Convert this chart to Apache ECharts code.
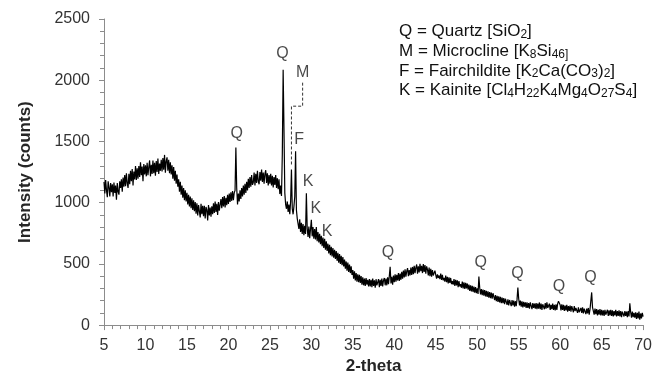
<!DOCTYPE html>
<html>
<head>
<meta charset="utf-8">
<script src="https://cdn.jsdelivr.net/npm/echarts@6/dist/echarts.min.js"></script>
<style>
  html, body { margin: 0; padding: 0; background: #fff; }
  #chart { width: 655px; height: 380px; }
</style>
</head>
<body>
<div id="chart"></div>
<script>
// Diffraction scan: intensity sampled every 0.1 degree 2-theta, starting at 5.
const twoThetaStart = 5;
const twoThetaStep = 0.1;

// One row per degree (x.0 ... x.9), final value at 70.0
const intensityRows = [
  [1170, 1075, 1185, 1100, 1045, 1175, 1125, 1050, 1160, 1085], // 5
  [1150, 1050, 1165, 1080, 1140, 1025, 1160, 1090, 1065, 1175], // 6
  [1120, 1190, 1090, 1205, 1130, 1225, 1135, 1240, 1160, 1120], // 7
  [1235, 1150, 1260, 1175, 1275, 1140, 1255, 1190, 1300, 1185], // 8
  [1280, 1195, 1300, 1210, 1330, 1225, 1295, 1175, 1315, 1230], // 9
  [1305, 1215, 1325, 1225, 1290, 1345, 1215, 1310, 1235, 1345], // 10
  [1240, 1325, 1220, 1340, 1250, 1360, 1235, 1320, 1260, 1350], // 11
  [1255, 1365, 1270, 1390, 1245, 1340, 1370, 1260, 1350, 1240], // 12
  [1330, 1230, 1305, 1195, 1290, 1180, 1260, 1155, 1230, 1130], // 13
  [1190, 1090, 1170, 1065, 1140, 1040, 1120, 1020, 1100, 1010], // 14
  [1080, 985, 1065, 970, 1050, 955, 1035, 940, 1020, 930],      // 15
  [1005, 910, 995, 895, 980, 965, 880, 990, 905, 975],          // 16
  [890, 975, 870, 965, 940, 855, 980, 895, 960, 885],           // 17
  [970, 905, 995, 915, 1010, 925, 990, 900, 1005, 935],         // 18
  [945, 1030, 955, 1045, 970, 1055, 960, 1040, 980, 1065],      // 19
  [990, 1075, 1005, 1085, 1015, 1095, 1020, 1080, 1100, 1450],  // 20
  [1120, 985, 1075, 1010, 1100, 1030, 1120, 1050, 1140, 1065],  // 21
  [1155, 1080, 1170, 1100, 1195, 1120, 1210, 1130, 1225, 1145], // 22
  [1165, 1245, 1140, 1235, 1160, 1260, 1175, 1150, 1250, 1180], // 23
  [1270, 1170, 1245, 1155, 1235, 1265, 1160, 1240, 1140, 1225], // 24
  [1155, 1235, 1140, 1220, 1125, 1210, 1145, 1225, 1120, 1200], // 25
  [1110, 1190, 1070, 1140, 1055, 1400, 2085, 1600, 1080, 985],  // 26
  [950, 1010, 925, 985, 905, 1010, 1270, 950, 905, 970],        // 27
  [1050, 1420, 940, 870, 860, 785, 865, 760, 835, 745],         // 28
  [825, 735, 810, 745, 1076, 790, 720, 805, 710, 785],          // 29
  [860, 725, 800, 705, 785, 700, 800, 685, 760, 675],           // 30
  [745, 660, 730, 645, 715, 630, 705, 615, 685, 605],           // 31
  [665, 585, 655, 570, 640, 560, 630, 550, 615, 540],           // 32
  [605, 525, 590, 510, 580, 500, 565, 490, 555, 480],           // 33
  [535, 460, 520, 445, 510, 435, 495, 425, 480, 410],           // 34
  [450, 380, 440, 365, 425, 355, 415, 350, 410, 345],           // 35
  [400, 330, 390, 325, 380, 320, 385, 330, 370, 315],           // 36
  [375, 315, 370, 310, 380, 320, 365, 305, 375, 325],           // 37
  [315, 375, 310, 370, 320, 380, 315, 365, 385, 325],           // 38
  [380, 325, 390, 335, 400, 477, 340, 395, 330, 405],           // 39
  [350, 415, 355, 410, 365, 425, 360, 420, 370, 435],           // 40
  [380, 445, 390, 455, 395, 440, 465, 400, 450, 405],           // 41
  [470, 410, 475, 415, 485, 425, 470, 495, 420, 480],           // 42
  [430, 500, 440, 485, 425, 498, 435, 490, 420, 480],           // 43
  [455, 405, 470, 400, 460, 395, 450, 405, 390, 445],           // 44
  [410, 380, 415, 385, 405, 375, 420, 370, 410, 365],           // 45
  [385, 355, 405, 350, 395, 340, 390, 345, 385, 335],           // 46
  [360, 330, 375, 320, 370, 325, 365, 310, 360, 315],           // 47
  [335, 305, 355, 300, 350, 295, 345, 300, 340, 290],           // 48
  [330, 280, 325, 275, 320, 270, 315, 265, 310, 260],           // 49
  [300, 255, 396, 305, 250, 295, 245, 290, 240, 285],           // 50
  [235, 280, 230, 275, 225, 270, 220, 265, 215, 260],           // 51
  [250, 205, 245, 195, 240, 190, 235, 185, 230, 180],           // 52
  [225, 180, 220, 170, 215, 205, 165, 210, 160, 205],           // 53
  [200, 155, 205, 160, 200, 150, 195, 155, 210, 307],           // 54
  [215, 160, 200, 150, 195, 145, 190, 150, 185, 140],           // 55
  [185, 140, 180, 135, 185, 175, 130, 180, 140, 175],           // 56
  [135, 180, 130, 175, 135, 185, 130, 175, 125, 170],           // 57
  [175, 130, 180, 135, 185, 140, 130, 175, 125, 165],           // 58
  [130, 175, 125, 165, 120, 170, 125, 175, 195, 180],           // 59
  [165, 120, 170, 125, 165, 115, 160, 120, 165, 110],           // 60
  [155, 115, 160, 110, 155, 150, 105, 155, 115, 140],           // 61
  [150, 100, 145, 105, 95, 140, 100, 145, 95, 135],             // 62
  [140, 90, 135, 95, 140, 85, 130, 135, 267, 145],              // 63
  [130, 85, 135, 90, 130, 80, 125, 85, 130, 80],                // 64
  [125, 80, 120, 75, 125, 85, 80, 125, 75, 120],                // 65
  [80, 125, 75, 120, 70, 115, 80, 125, 70, 115],                // 66
  [75, 120, 70, 115, 65, 110, 125, 70, 115, 75],                // 67
  [110, 65, 115, 70, 178, 105, 60, 110, 65, 100],               // 68
  [60, 105, 50, 100, 55, 110, 45, 95, 55, 100],                 // 69
  [70]                                                          // 70
];

// Phase labels placed in data space: [2-theta, intensity, label]
const peakLabels = [
  [20.99, 1561, 'Q'],
  [26.53, 2217, 'Q'],
  [28.95, 2061, 'M'],
  [28.53, 1515, 'F'],
  [29.61, 1171, 'K'],
  [30.54, 955, 'K'],
  [31.90, 766, 'K'],
  [39.25, 591, 'Q'],
  [50.42, 510, 'Q'],
  [54.84, 421, 'Q'],
  [59.86, 313, 'Q'],
  [63.64, 388, 'Q']
];

// Dashed leader from the M label down to its peak
const microclineLeader = [[28.95, 1980], [28.95, 1788], [27.6, 1788], [27.6, 1305]];

// Key lines (rich text tokens: n = normal, s = subscript)
const keyLines = [
  '{n|Q = Quartz [SiO}{s|2}{n|]}',
  '{n|M = Microcline [K}{s|8}{n|Si}{s|46]}',
  '{n|F = Fairchildite [K}{s|2}{n|Ca(CO}{s|3}{n|)}{s|2}{n|]}',
  '{n|K = Kainite [Cl}{s|4}{n|H}{s|22}{n|K}{s|4}{n|Mg}{s|4}{n|O}{s|27}{n|S}{s|4}{n|]}'
];

const xTicks = { min: 5, max: 70, interval: 5 };
const yTicks = { min: 0, max: 2500, interval: 500 };

const scan = [];
intensityRows.forEach((row, r) => {
  row.forEach((v, c) => {
    const t = +(twoThetaStart + (r * 10 + c) * twoThetaStep).toFixed(2);
    scan.push([t, v]);
  });
});

const FONT = '"Liberation Sans", Arial, sans-serif';
const axisGray = '#8c8c8c';

const chart = echarts.init(document.getElementById('chart'), null, { renderer: 'canvas' });
chart.setOption({
  animation: false,
  backgroundColor: '#fff',
  grid: { left: 104, right: 11, top: 19, bottom: 52, containLabel: false },
  xAxis: {
    type: 'value',
    min: xTicks.min, max: xTicks.max, interval: xTicks.interval,
    name: '2-theta',
    nameLocation: 'middle',
    nameGap: 28,
    nameTextStyle: { fontFamily: FONT, fontSize: 17, fontWeight: 'bold', color: '#262626' },
    axisLine: { lineStyle: { color: axisGray, width: 1 } },
    axisTick: { show: true, length: 5, lineStyle: { color: axisGray } },
    minorTick: { show: true, splitNumber: 5, length: 4, lineStyle: { color: axisGray } },
    splitLine: { show: false },
    axisLabel: { fontFamily: FONT, fontSize: 16, color: '#333', margin: 12 }
  },
  yAxis: {
    type: 'value',
    min: yTicks.min, max: yTicks.max, interval: yTicks.interval,
    name: 'Intensity (counts)',
    nameLocation: 'middle',
    nameGap: 70,
    nameTextStyle: { fontFamily: FONT, fontSize: 17, fontWeight: 'bold', color: '#262626' },
    axisLine: { show: true, lineStyle: { color: axisGray, width: 1 } },
    axisTick: { show: true, length: 5, lineStyle: { color: axisGray } },
    minorTick: { show: true, splitNumber: 5, length: 4, lineStyle: { color: axisGray } },
    splitLine: { show: false },
    axisLabel: { fontFamily: FONT, fontSize: 16, color: '#333', margin: 14, formatter: v => String(v) }
  },
  series: [
    {
      type: 'line',
      data: scan,
      showSymbol: false,
      sampling: false,
      lineStyle: { color: '#000', width: 1.2 },
      emphasis: { disabled: true },
      z: 3
    },
    {
      type: 'scatter',
      data: peakLabels,
      symbolSize: 1,
      itemStyle: { color: 'rgba(0,0,0,0)' },
      label: {
        show: true,
        position: 'inside',
        formatter: p => p.value[2],
        fontFamily: FONT,
        fontSize: 16,
        color: '#1a1a1a'
      },
      emphasis: { disabled: true },
      z: 4
    },
    {
      type: 'lines',
      coordinateSystem: 'cartesian2d',
      polyline: true,
      data: [{ coords: microclineLeader }],
      symbol: ['none', 'arrow'],
      symbolSize: 7,
      lineStyle: { color: '#333', width: 1, type: [3, 2], opacity: 1 },
      emphasis: { disabled: true },
      z: 4
    }
  ],
  graphic: keyLines.map((txt, i) => ({
    type: 'text',
    left: 399,
    top: 23 + i * 19.7,
    style: {
      text: txt,
      rich: {
        n: { fontFamily: FONT, fontSize: 17, lineHeight: 18, fill: '#111' },
        s: { fontFamily: FONT, fontSize: 12, lineHeight: 8, verticalAlign: 'bottom', fill: '#111' }
      }
    }
  }))
});
</script>
</body>
</html>
